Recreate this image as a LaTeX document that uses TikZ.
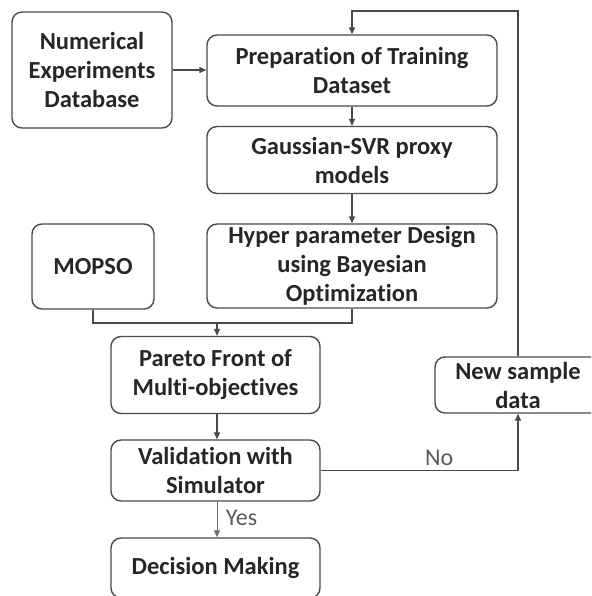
\documentclass[tikz,border=0pt]{standalone}
\usepackage{fontspec}
\setmainfont{Carlito}[Ligatures=NoCommon]
\usetikzlibrary{arrows.meta,calc}
\definecolor{linec}{HTML}{4A4A4A}
\definecolor{textc}{HTML}{262626}
\definecolor{labc}{HTML}{5A5A5A}
\begin{document}
\begin{tikzpicture}[x=1pt,y=-1pt,
  box/.style={draw=linec,line width=1.4pt,rounded corners=10pt,align=center,
    font=\fontsize{24.5}{29}\selectfont\bfseries,text=textc,inner sep=0pt},
  conn/.style={draw=linec,line width=1.4pt,-{Triangle[length=7pt,width=6pt]}},
  plain/.style={draw=linec,line width=1.4pt},
  lab/.style={font=\fontsize{24}{28}\selectfont,text=labc}]
\useasboundingbox (0,0) rectangle (591,596);
\clip (0,0) rectangle (591,596);
\node[box,minimum width=160pt,minimum height=116pt] (db) at (92,70) {Numerical\\Experiments\\Database};
\node[box,minimum width=290pt,minimum height=71pt] (prep) at (352,70.5) {Preparation of Training\\Dataset};
\node[box,minimum width=290pt,minimum height=67pt] (gauss) at (352,160) {Gaussian-SVR proxy\\models};
\node[box,minimum width=290pt,minimum height=84pt] (hyper) at (352,266) {Hyper parameter Design\\using Bayesian\\Optimization};
\node[box,minimum width=122pt,minimum height=85pt] (mopso) at (93,266.5) {MOPSO};
\node[box,minimum width=209pt,minimum height=77pt] (pareto) at (215.5,375) {Pareto Front of\\Multi-objectives};
\node[box,minimum width=209pt,minimum height=61pt] (valid) at (215.5,470.5) {Validation with\\Simulator};
\node[box,minimum width=209pt,minimum height=60pt] (dec) at (215.5,568) {Decision Making};
\node[box,minimum width=166pt,minimum height=56pt] (new) at (518,385) {New sample\\data};
\coordinate (join) at (217,323);
\coordinate (top) at (518,11);
\draw[conn] (db.east |- 0,70) -- (prep.west |- 0,70);
\draw[conn] (prep.south) -- (gauss.north);
\draw[conn] (gauss.south) -- (hyper.north);
\draw[plain] (mopso.south) |- (join) -| (hyper.south);
\draw[conn] (join) -- (join |- pareto.north);
\draw[conn] (pareto.south -| join) -- (valid.north -| join);
\draw[conn,line width=1pt,draw=labc!90] (valid.south -| join) -- node[lab,right=5pt,pos=0.45]{Yes} (dec.north -| join);
\draw[conn] (valid.east) -| node[lab,above=1pt,pos=0.3]{No} (new.south);
\draw[conn] (new.north) -- (top) -| (prep.north);
\end{tikzpicture}
\end{document}
